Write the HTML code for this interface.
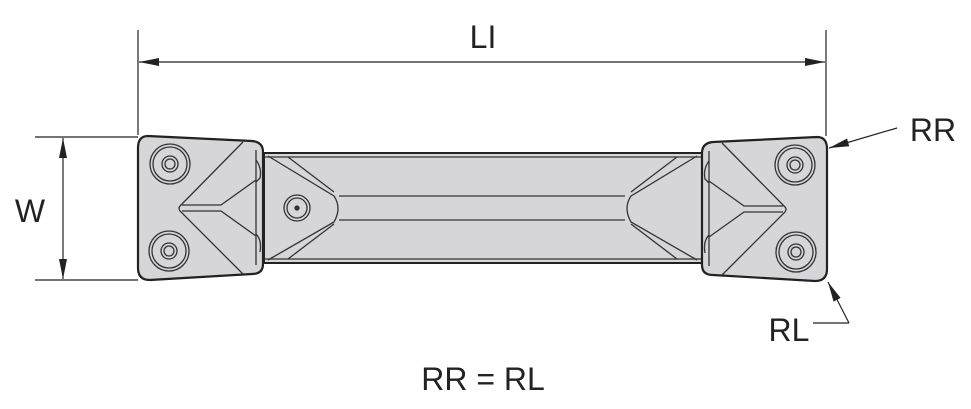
<!DOCTYPE html>
<html><head><style>
html,body{margin:0;padding:0;background:#fff;}
svg{display:block;}
text{font-family:"Liberation Sans",sans-serif;fill:#222;}
</style></head><body>
<svg width="971" height="409" viewBox="0 0 971 409" xmlns="http://www.w3.org/2000/svg">
<defs>
<marker id="ar" viewBox="0 0 20 10" refX="20" refY="5" markerWidth="20" markerHeight="10" markerUnits="userSpaceOnUse" orient="auto">
<path d="M0,1 L20,5 L0,9 Z" fill="#222"/></marker>
<marker id="ars" viewBox="0 0 20 10" refX="0" refY="5" markerWidth="20" markerHeight="10" markerUnits="userSpaceOnUse" orient="auto">
<path d="M20,1 L0,5 L20,9 Z" fill="#222"/></marker>
<g id="half" stroke="#333" fill="none" stroke-width="1.3">
<path d="M148,136 L252,141 Q263,142 263,152 L263,264 Q263,274 252,274 L150,280 Q138,280 138,268 L138,148 Q138,136 148,136 Z" fill="#d6d6d8" stroke="#222" stroke-width="2.2"/>
<line x1="256" y1="150" x2="256" y2="265"/>
<path d="M243,142 L180,206 Q178,208 180,211 L243,274"/>
<path d="M182,205 L221,205 L256,180"/>
<path d="M182,211 L221,211 L256,236"/>
<path d="M256,160 Q262,168 260,178 L256,182" />
<path d="M256,234 Q262,240 260,252"/>
<circle cx="170" cy="164" r="20"/><circle cx="170" cy="164" r="17"/><circle cx="170" cy="164" r="8"/><circle cx="170" cy="164" r="5"/>
<circle cx="169" cy="251" r="20"/><circle cx="169" cy="251" r="17"/><circle cx="169" cy="251" r="8"/><circle cx="169" cy="251" r="5"/>
</g>
</defs>
<rect x="264" y="153" width="438" height="110" fill="#d6d6d8" stroke="#222" stroke-width="2"/>
<g stroke="#333" fill="none" stroke-width="1.3">
<line x1="264" y1="157" x2="702" y2="157"/><line x1="264" y1="259" x2="702" y2="259"/>
<line x1="339" y1="196" x2="625" y2="196"/><line x1="339" y1="220" x2="625" y2="220"/>
<path d="M268,156 L334,196 Q342,208 334,222 L268,260"/>
<path d="M288,157 L334,192"/><path d="M288,259 L334,224"/>
<path d="M697,156 L631,196 Q623,208 631,222 L697,260"/>
<path d="M677,157 L631,192"/><path d="M677,259 L631,224"/>
<circle cx="297" cy="208" r="13"/><circle cx="297" cy="208" r="10"/><circle cx="297" cy="208" r="2" fill="#333"/>
</g>
<use href="#half"/>
<use href="#half" transform="translate(965,1) scale(-1,1)"/>
<g stroke="#222" stroke-width="1.2" fill="none">
<line x1="138" y1="30" x2="138" y2="135"/>
<line x1="826" y1="30" x2="826" y2="136"/>
<line x1="139" y1="62" x2="825" y2="62" marker-start="url(#ars)" marker-end="url(#ar)"/>
<line x1="35" y1="137" x2="138" y2="137"/>
<line x1="35" y1="280" x2="138" y2="280"/>
<line x1="63" y1="138" x2="63" y2="279" marker-start="url(#ars)" marker-end="url(#ar)"/>
<line x1="897" y1="128" x2="829" y2="148" marker-end="url(#ar)"/>
<polyline points="813,323 849,323"/>
<line x1="849" y1="323" x2="828" y2="282" marker-end="url(#ar)"/>
</g>
<text x="483" y="48" font-size="32" text-anchor="middle">LI</text>
<text x="30" y="222" font-size="32" text-anchor="middle">W</text>
<text x="933" y="141" font-size="32" text-anchor="middle">RR</text>
<text x="789" y="341" font-size="32" text-anchor="middle">RL</text>
<text x="483" y="390" font-size="32" text-anchor="middle">RR = RL</text>
</svg>
</body></html>
